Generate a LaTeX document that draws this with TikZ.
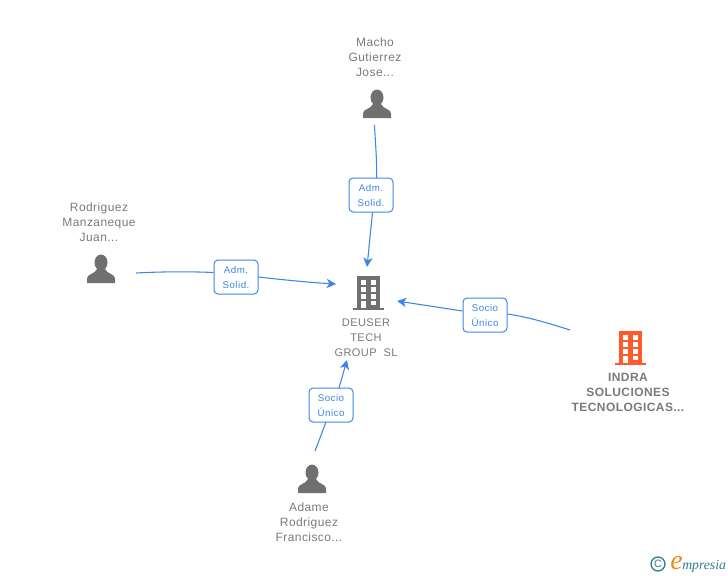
\documentclass[tikz,border=0pt]{standalone}
\usepackage{fontspec}
\setmainfont{Liberation Sans}[LetterSpace=3.5]
\newfontfamily\boxfont{Liberation Sans}[LetterSpace=5]
\newfontfamily\logofont{Liberation Serif}
\newfontfamily\logosans{Liberation Sans}
\usetikzlibrary{arrows.meta}
\newcommand{\boxtop}{\rule{0pt}{6.8pt}}
\definecolor{txtgray}{HTML}{7A7A7A}
\definecolor{icongray}{HTML}{707070}
\definecolor{linkblue}{HTML}{3C86E6}
\definecolor{orangeb}{HTML}{FF5A2C}
\definecolor{logoteal}{HTML}{2F7D93}
\definecolor{logoor}{HTML}{F08A1D}
\tikzset{
  x=0.75pt,y=-0.75pt,
  lbl/.style={text=txtgray,font=\fontsize{9}{11.25}\selectfont,align=center,inner sep=0pt},
  lblbold/.style={text=txtgray,font=\fontsize{9}{11.25}\selectfont\bfseries,align=center,inner sep=0pt},
  relbox/.style={draw=linkblue,fill=white,rounded corners=3pt,line width=0.75pt,minimum width=33pt,minimum height=25.5pt,inner sep=0pt,text=linkblue,font=\boxfont\fontsize{7.3}{11.25}\selectfont,align=center},
  link/.style={draw=linkblue,line width=0.8pt},
  linka/.style={link,-{Stealth[length=7pt,width=7pt,inset=2pt]}},
  anchorpt/.style={inner sep=0pt,minimum size=0pt},
  person/.pic={
    \fill[icongray] (0,-6.5) ellipse (6.5 and 8);
    \fill[icongray] (-14,14) -- (-14,9.5) .. controls (-14,5) and (-6,5) .. (-4,0) -- (4,0) .. controls (6,5) and (14,5) .. (14,9.5) -- (14,14) -- cycle;
  },
  building/.pic={
    \fill[pic actions] (-11,-17) rectangle (12,15);
    \fill[pic actions] (-15,15) rectangle (16,17);
    \foreach \xx in {-7,3}{\foreach \yy in {-13,-6,1}{\fill[white] (\xx,\yy) rectangle ++(5,4.5);}}
    \fill[white] (3,7.5) rectangle ++(5,4.5);
    \fill[white] (-7,7.5) rectangle ++(5,7.5);
  },
}
\begin{document}
\begin{tikzpicture}
\useasboundingbox (0,0) rectangle (728,575);
% icons
\node[anchorpt] (machoicon) at (377,104) {};
\pic at (machoicon) {person};
\node[anchorpt] (rodicon) at (101,269) {};
\pic at (rodicon) {person};
\node[anchorpt] (adameicon) at (312,479) {};
\pic at (adameicon) {person};
\node[anchorpt] (deusericon) at (368,293) {};
\pic[fill=icongray] at (deusericon) {building};
\node[anchorpt] (indraicon) at (630,348) {};
\pic[fill=orangeb] at (indraicon) {building};
% labels
\node[lbl] (macho) at (375,57) {Macho\\Gutierrez\\Jose...};
\node[lbl] (rod) at (99,222) {Rodriguez\\Manzaneque\\Juan...};
\node[lbl] (adame) at (309,522) {Adame\\Rodriguez\\Francisco...};
\node[lbl,font=\fontsize{8.3}{11.25}\selectfont,text=txtgray] (deuser) at (366,338) {DEUSER\\TECH\\GROUP\ \ SL};
\node[lblbold] (indra) at (628,392) {INDRA\\SOLUCIONES\\TECNOLOGICAS...};
% relation boxes
\node[relbox] (b1) at (371,195) {\boxtop Adm.\\Solid.};
\node[relbox] (b2) at (236,277) {\boxtop Adm.\\Solid.};
\node[relbox] (b3) at (485,315) {\boxtop Socio\\Único};
\node[relbox] (b4) at (331,405) {\boxtop Socio\\Único};
% connector ends
\coordinate (s1) at (374.5,125);
\coordinate (t1) at (367,267);
\coordinate (s2) at (136,273);
\coordinate (t2) at (336,284);
\coordinate (s3) at (570,330);
\coordinate (t3) at (397,301);
\coordinate (s4) at (315,451);
\coordinate (t4) at (347,360);
% connectors
\draw[link] (s1) .. controls (375.5,145) and (377,160) .. (376.5,178);
\draw[linka] (b1.south -| 372.5,212) -- (t1);
\draw[link] (s2) .. controls (165,271.5) and (190,271.5) .. (b2.west |- 0,272.5);
\draw[linka] (b2.east |- 0,277) .. controls (285,280) and (310,282.5) .. (t2);
\draw[link] (s3) .. controls (548,323) and (528,317) .. (b3.east |- 0,314);
\draw[linka] (b3.west |- 0,311) -- (t3);
\draw[link] (s4) -- (326,422);
\draw[linka] (339,388) -- (t4);
% logo
\node[circle,draw=logoteal,line width=1pt,minimum size=10.5pt,inner sep=0pt,text=logoteal,font=\logosans\fontsize{8}{8}\selectfont] (copy) at (658,564) {C};
\node[anchor=base west,inner sep=0pt,text=logoor,font=\logofont\itshape\fontsize{21}{21}\selectfont] (loge) at (670,569) {e};
\node[anchor=base west,inner sep=0pt,text=logoteal,font=\logofont\itshape\fontsize{10.3}{11}\selectfont] (logm) at (682,569) {mpresia};
\end{tikzpicture}
\end{document}
